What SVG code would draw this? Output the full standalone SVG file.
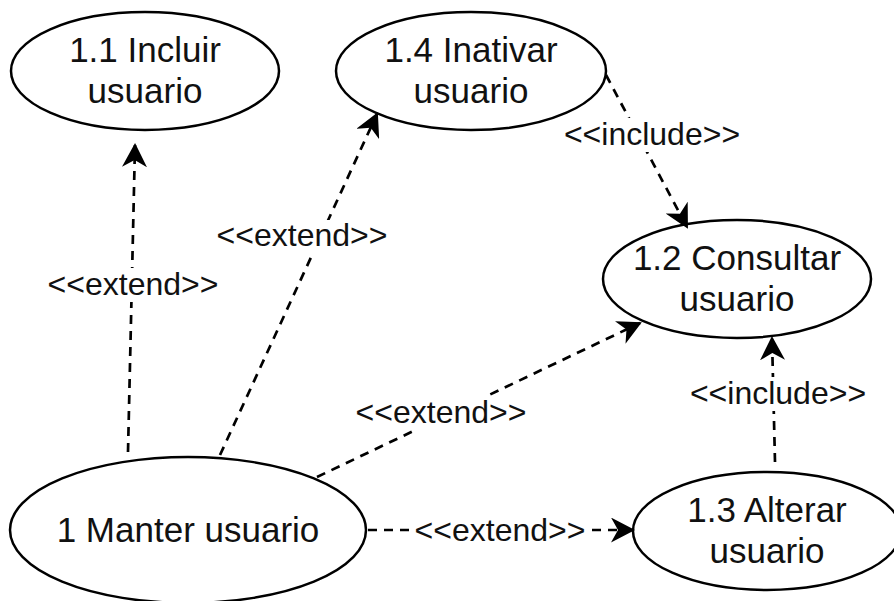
<svg xmlns="http://www.w3.org/2000/svg" width="894" height="601" viewBox="0 0 894 601">
<style>
.node ellipse{fill:#fff;stroke:#000;stroke-width:2.5}
.node text{font-family:"Liberation Sans",Arial,sans-serif;font-size:35px;fill:#111;text-anchor:middle}
.edge{fill:none;stroke:#000;stroke-width:2.7;stroke-dasharray:9 7;marker-end:url(#arr)}
.lbl rect{fill:#fff}
.lbl text{font-family:"Liberation Sans",Arial,sans-serif;font-size:32px;fill:#111;text-anchor:middle}
</style>
<defs>
<marker id="arr" markerUnits="userSpaceOnUse" viewBox="0 0 24 25" refX="22" refY="12.5" markerWidth="24" markerHeight="25" orient="auto">
<path d="M24,12.5 L0,0 L7,12.5 L0,25 Z" fill="#000"/>
</marker>
</defs>
<rect width="894" height="601" fill="#fff"/>
<g id="n11" class="node"><ellipse cx="145" cy="71" rx="134" ry="59"/><text x="145" y="62">1.1 Incluir</text><text x="145" y="103">usuario</text></g>
<g id="n14" class="node"><ellipse cx="471" cy="71" rx="135" ry="59"/><text x="471" y="62">1.4 Inativar</text><text x="471" y="103">usuario</text></g>
<g id="n12" class="node"><ellipse cx="737" cy="279" rx="134" ry="59"/><text x="737" y="270">1.2 Consultar</text><text x="737" y="311">usuario</text></g>
<g id="n13" class="node"><ellipse cx="767" cy="531" rx="134" ry="59"/><text x="767" y="522">1.3 Alterar</text><text x="767" y="563">usuario</text></g>
<g id="n1" class="node"><ellipse cx="188" cy="530" rx="178" ry="73"/><text x="188" y="542">1 Manter usuario</text></g>
<g id="connectors">
<path class="edge" d="M128,452 L135,145"/>
<path class="edge" d="M220,455 L377,114"/>
<path class="edge" d="M606,75 L687,227"/>
<path class="edge" d="M317,477 L640,323"/>
<path class="edge" d="M368,530 L633,530"/>
<path class="edge" d="M775,462 L772,338"/>
<g class="lbl"><rect x="45" y="268" width="176" height="34"/><text x="133" y="295">&lt;&lt;extend&gt;&gt;</text></g>
<g class="lbl"><rect x="214" y="220" width="176" height="34"/><text x="302" y="246">&lt;&lt;extend&gt;&gt;</text></g>
<g class="lbl"><rect x="562" y="118" width="180" height="34"/><text x="652" y="145">&lt;&lt;include&gt;&gt;</text></g>
<g class="lbl"><rect x="353" y="396" width="176" height="34"/><text x="441" y="423">&lt;&lt;extend&gt;&gt;</text></g>
<g class="lbl"><rect x="413" y="514" width="176" height="34"/><text x="500" y="541">&lt;&lt;extend&gt;&gt;</text></g>
<g class="lbl"><rect x="688" y="377" width="180" height="34"/><text x="778" y="404">&lt;&lt;include&gt;&gt;</text></g>
</g>
</svg>
